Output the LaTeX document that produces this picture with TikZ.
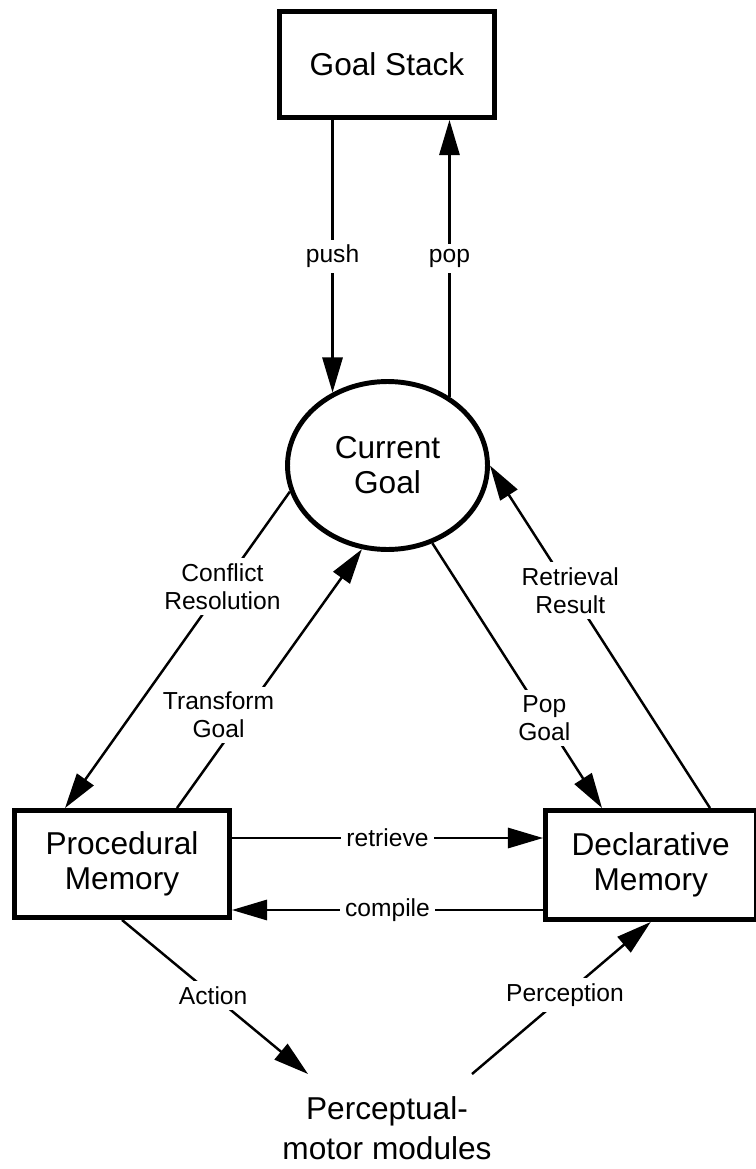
\documentclass[tikz,border=0pt]{standalone}
\usepackage{fontspec}
\setmainfont{Liberation Sans}
\usetikzlibrary{arrows.meta,shapes.geometric}

\begin{document}
\begin{tikzpicture}[x=0.02cm,y=-0.02cm,
  box/.style={draw,line width=2.8pt,minimum width=4.3cm,minimum height=2.14cm,align=center,font=\fontsize{18}{20}\selectfont},
  conn/.style={line width=1.4pt,-{Triangle[length=20pt,width=11.5pt]}},
  lbl/.style={fill=white,inner sep=3pt,align=center,font=\fontsize{14}{16}\selectfont}]
\useasboundingbox (0,0) rectangle (755,1169);
\node[box,minimum height=2.12cm] (gs) at (387,64.5) {Goal Stack};
\node[ellipse,draw,line width=2.8pt,minimum width=4cm,minimum height=3.36cm,align=center,font=\fontsize{18}{20}\selectfont] (cur) at (387.5,465.5) {Current\\Goal};
\node[box] (proc) at (122,864) {Procedural\\Memory};
\node[box,minimum width=4.21cm,minimum height=2.18cm] (decl) at (650.75,865) {Declarative\\Memory};
\node[align=center,font=\fontsize{18}{22.7}\selectfont] (pm) at (387,1128) {Perceptual-\\motor modules};
\coordinate (act) at (308,1074);
\coordinate (per) at (472,1074);
\draw[conn] (cur.127 |- gs.south) -- node[lbl]{push} (cur.127);
\draw[conn] (cur.48) -- node[lbl]{pop} (cur.48 |- gs.south);
\draw[conn] (cur.195) -- node[lbl,pos=0.3]{Conflict\\Resolution} ([xshift=-1.14cm]proc.north);
\draw[conn] ([xshift=1.1cm]proc.north) -- node[lbl,pos=0.36,xshift=-0.5cm]{Transform\\Goal} (cur.253);
\draw[conn] (cur.300) -- node[lbl,pos=0.66]{Pop\\Goal} ([xshift=-0.975cm]decl.north);
\draw[conn] ([xshift=1.185cm]decl.north) -- node[lbl,pos=0.635]{Retrieval\\Result} (cur.0);
\draw[conn] ([yshift=0.52cm]proc.east) -- node[lbl]{retrieve} ([yshift=0.52cm]proc.east -| decl.west);
\draw[conn] ([yshift=-0.92cm]proc.east -| decl.west) -- node[lbl]{compile} ([yshift=-0.92cm]proc.east);
\draw[conn] (proc.south) -- node[lbl,pos=0.49]{Action} (act);
\draw[conn] (per) -- node[lbl,pos=0.52]{Perception} (decl.south);
\end{tikzpicture}
\end{document}
